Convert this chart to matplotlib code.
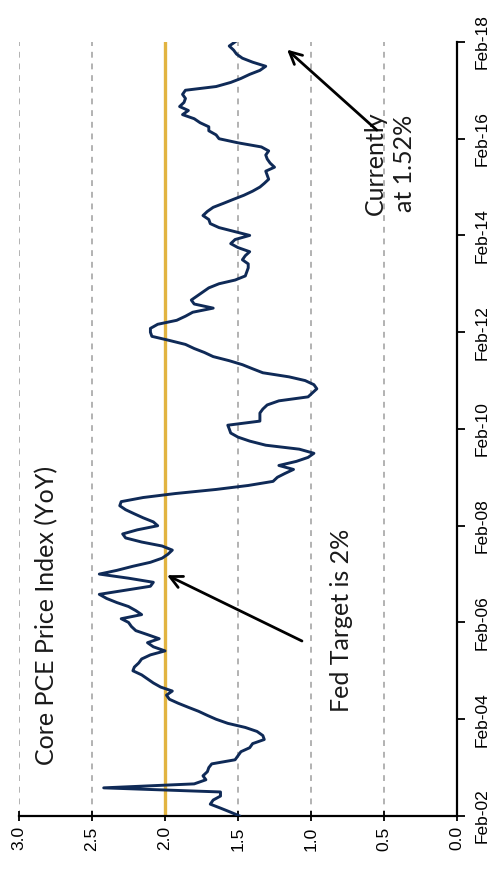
import matplotlib
matplotlib.use("Agg")
from matplotlib import pyplot as plt
import matplotlib.dates as mdates
import pandas as pd

# monthly Core PCE YoY readings, Feb 2002 .. Feb 2018
months = pd.date_range("2002-02-01", "2018-02-01", freq="MS")
core_pce = [
    1.49, 1.55, 1.62, 1.69, 1.67, 1.62, 1.62, 2.42, 1.80, 1.72,
    1.74, 1.71, 1.70, 1.68, 1.52, 1.50, 1.48, 1.42, 1.40, 1.32,
    1.33, 1.37, 1.45, 1.57, 1.65, 1.71, 1.77, 1.84, 1.91, 1.97,
    1.99, 1.95, 2.03, 2.08, 2.12, 2.16, 2.22, 2.21, 2.18, 2.16,
    2.10, 2.00, 2.08, 2.12, 2.04, 2.12, 2.20, 2.23, 2.25, 2.30,
    2.16, 2.20, 2.25, 2.33, 2.40, 2.45, 2.28, 2.10, 2.08, 2.25,
    2.45, 2.33, 2.22, 2.10, 2.02, 1.98, 1.95, 2.02, 2.16, 2.27,
    2.29, 2.19, 2.05, 2.08, 2.15, 2.21, 2.27, 2.31, 2.30, 2.15,
    1.93, 1.65, 1.43, 1.26, 1.23, 1.18, 1.12, 1.22, 1.10, 1.02,
    0.98, 1.08, 1.31, 1.42, 1.50, 1.55, 1.56, 1.57, 1.35, 1.35,
    1.35, 1.33, 1.30, 1.22, 1.02, 0.99, 0.96, 0.98, 1.04, 1.15,
    1.33, 1.40, 1.47, 1.56, 1.67, 1.73, 1.80, 1.86, 1.97, 2.09,
    2.10, 2.10, 2.05, 1.92, 1.86, 1.81, 1.67, 1.80, 1.82, 1.78,
    1.74, 1.70, 1.63, 1.52, 1.45, 1.44, 1.43, 1.43, 1.47, 1.45,
    1.42, 1.50, 1.55, 1.52, 1.42, 1.52, 1.63, 1.69, 1.70, 1.74,
    1.71, 1.67, 1.60, 1.53, 1.46, 1.40, 1.35, 1.32, 1.29, 1.30,
    1.31, 1.25, 1.28, 1.30, 1.31, 1.29, 1.34, 1.50, 1.63, 1.65,
    1.70, 1.70, 1.76, 1.80, 1.88, 1.84, 1.90, 1.87, 1.86, 1.88,
    1.86, 1.65, 1.55, 1.48, 1.42, 1.35, 1.31, 1.40, 1.47, 1.51,
    1.53, 1.56, 1.52,
]
fed_target = 2.0
value_ticks = [0.0, 0.5, 1.0, 1.5, 2.0, 2.5, 3.0]
grid_levels = [0.5, 1.0, 1.5, 2.5, 3.0]

navy = "#0f2a57"
gold = "#e2b441"
note_font = ["Lato", "DejaVu Sans"]

fig = plt.figure(figsize=(4.94, 8.84), dpi=100)
ax = fig.add_axes([0.0385, 0.077, 0.8866, 0.8756])

# the chart is laid on its side: values run right-to-left, time runs upward
for g in grid_levels:
    ax.axvline(g, color="#a6a6a6", lw=1.2, ls=(0, (3.5, 3.5)), zorder=1)
ax.axvline(fed_target, color=gold, lw=2.4, zorder=2)
ax.plot(core_pce, months, color=navy, lw=2.1, zorder=3)

ax.set_xlim(3.0, 0.0)
ax.set_ylim(pd.Timestamp("2002-02-01"), pd.Timestamp("2018-02-01"))

ax.set_xticks(value_ticks)
ax.set_xticklabels([f"{v:.1f}" for v in value_ticks], rotation=90,
                   family="Liberation Sans", fontsize=12.5)
ax.yaxis.tick_right()
ax.yaxis.set_major_locator(mdates.YearLocator(2, month=2))
ax.yaxis.set_major_formatter(mdates.DateFormatter("%b-%y"))
for lab in ax.get_yticklabels():
    lab.set_rotation(90)
    lab.set_family("Liberation Sans")
    lab.set_fontsize(12.5)
    lab.set_va("center")

ax.tick_params(axis="x", direction="inout", length=7, width=1.3, pad=4)
ax.tick_params(axis="y", direction="out", length=6, width=1.3, pad=7)

for side in ("top", "left"):
    ax.spines[side].set_visible(False)
for side in ("bottom", "right"):
    ax.spines[side].set_linewidth(1.6)
    ax.spines[side].set_color("black")

ax.text(0.062, 0.066, "Core PCE Price Index (YoY)", transform=ax.transAxes,
        rotation=90, rotation_mode="anchor", ha="left", va="center",
        fontsize=18, family=note_font, color="#1a1a1a")
ax.text(0.737, 0.134, "Fed Target is 2%", transform=ax.transAxes,
        rotation=90, rotation_mode="anchor", ha="left", va="center",
        fontsize=18, family=note_font, color="#1a1a1a")
ax.text(0.847, 0.843, "Currently\nat 1.52%", transform=ax.transAxes,
        rotation=90, ha="center", va="center", multialignment="center",
        fontsize=18, family=note_font, color="#1a1a1a", linespacing=1.35)

arrow = dict(arrowstyle="->", color="black", lw=2.0, mutation_scale=22,
             shrinkA=0, shrinkB=0)
ax.annotate("", xy=(0.338, 0.311), xytext=(0.646, 0.226),
            xycoords="axes fraction", textcoords="axes fraction", arrowprops=arrow)
ax.annotate("", xy=(0.612, 0.990), xytext=(0.817, 0.886),
            xycoords="axes fraction", textcoords="axes fraction", arrowprops=arrow)

fig.savefig("out.png", dpi=100)
